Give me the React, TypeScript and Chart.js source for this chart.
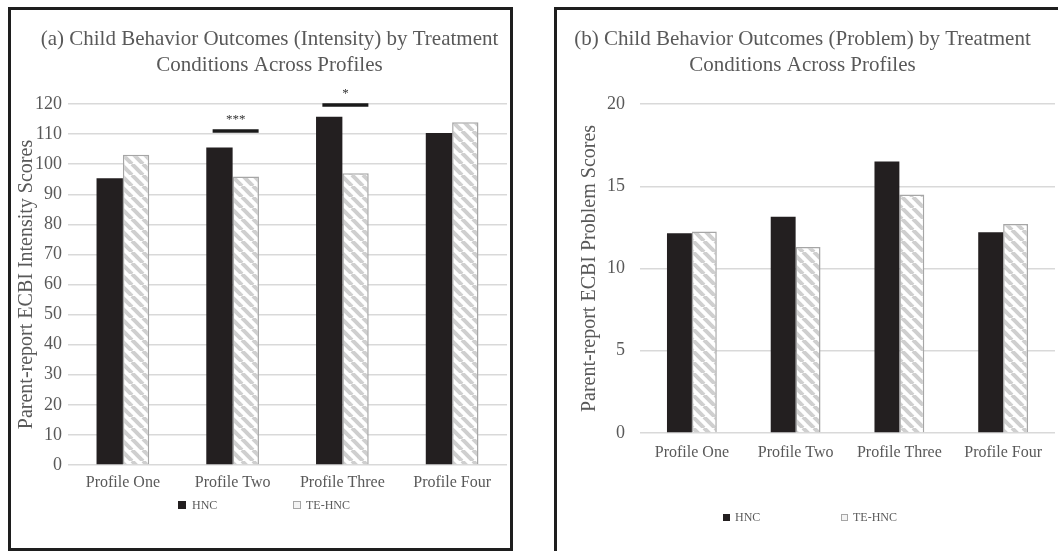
import React, { useEffect, useRef } from 'react';
import { Chart, registerables } from 'chart.js';

Chart.register(...registerables);

// ---------- data ----------
const categories = ['Profile One', 'Profile Two', 'Profile Three', 'Profile Four'];
const seriesNames = ['HNC', 'TE-HNC'];

const intensityHNC = [95.3, 105.5, 115.8, 110.4];
const intensityTE = [103.1, 95.9, 97.0, 113.9];

const problemHNC = [12.15, 13.15, 16.5, 12.2];
const problemTE = [12.25, 11.3, 14.5, 12.7];

const intensityTitle = ['(a) Child Behavior Outcomes (Intensity) by Treatment', 'Conditions Across Profiles'];
const problemTitle = ['(b) Child Behavior Outcomes (Problem) by Treatment', 'Conditions Across Profiles'];
const intensityAxisTitle = 'Parent-report ECBI Intensity Scores';
const problemAxisTitle = 'Parent-report ECBI Problem Scores';

const intensityMax = 120;
const intensityStep = 10;
const problemMax = 20;
const problemStep = 5;

const intensitySig = [
  { category: 'Profile Two', value: 111, label: '***' },
  { category: 'Profile Three', value: 119.7, label: '*' },
];

// ---------- style ----------
const FONT = "'Liberation Serif', 'Times New Roman', serif";
const TEXT = '#595959';
const DARK = '#231f20';
const GRID = '#d9d9d9';
const HATCH_BORDER = '#a6a6a6';

function makeHatch(): CanvasPattern | string {
  const s = 11;
  const c = document.createElement('canvas');
  c.width = s;
  c.height = s;
  const ctx = c.getContext('2d');
  if (!ctx) return '#ffffff';
  ctx.fillStyle = '#ffffff';
  ctx.fillRect(0, 0, s, s);
  ctx.strokeStyle = '#cfcfcf';
  ctx.lineWidth = 4;
  for (const x0 of [-s, 0, s]) {
    ctx.beginPath();
    ctx.moveTo(x0, 0);
    ctx.lineTo(x0 + s, s);
    ctx.stroke();
  }
  const p = ctx.createPattern(c, 'repeat');
  return p || '#ffffff';
}

const sigPlugin = {
  id: 'sigMarks',
  afterDatasetsDraw(chart: any, _args: any, opts: any) {
    const marks = opts && opts.marks;
    if (!marks || !marks.length) return;
    const { ctx, scales } = chart;
    const xs = scales.x;
    const ys = scales.y;
    ctx.save();
    for (const m of marks) {
      const idx = categories.indexOf(m.category);
      const cx = xs.getPixelForValue(idx);
      const y = ys.getPixelForValue(m.value);
      const x1 = cx - 20;
      const x2 = cx + 26;
      ctx.strokeStyle = '#1a1a1a';
      ctx.lineWidth = 3.5;
      ctx.beginPath();
      ctx.moveTo(x1, y);
      ctx.lineTo(x2, y);
      ctx.stroke();
      ctx.fillStyle = '#333333';
      ctx.font = `13px ${FONT}`;
      ctx.textAlign = 'center';
      ctx.textBaseline = 'middle';
      ctx.fillText(m.label, (x1 + x2) / 2, y - 11);
    }
    ctx.restore();
  },
};

type PanelCfg = {
  title: string[];
  axisTitle: string;
  hnc: number[];
  te: number[];
  max: number;
  step: number;
  marks: any[];
  yWidth: number;
  yTickPad: number;
  yTitlePad: number;
  padLeft: number;
  padRight: number;
  padBottom: number;
  xHeight: number;
  xTickPad: number;
};

function buildChart(canvas: HTMLCanvasElement, cfg: PanelCfg) {
  const hatch = makeHatch();
  return new Chart(canvas, {
    type: 'bar',
    data: {
      labels: categories,
      datasets: [
        {
          label: seriesNames[0],
          data: cfg.hnc,
          backgroundColor: DARK,
          borderWidth: 0,
          categoryPercentage: 0.48,
          barPercentage: 1.0,
        },
        {
          label: seriesNames[1],
          data: cfg.te,
          backgroundColor: hatch as any,
          borderColor: HATCH_BORDER,
          borderWidth: 1.5,
          categoryPercentage: 0.48,
          barPercentage: 1.0,
        },
      ],
    },
    options: {
      responsive: false,
      animation: false,
      layout: { padding: { left: cfg.padLeft, right: cfg.padRight, top: 0, bottom: cfg.padBottom } },
      plugins: {
        legend: { display: false },
        tooltip: { enabled: false },
        title: {
          display: true,
          text: cfg.title,
          color: TEXT,
          font: { family: FONT, size: 21, weight: 'normal', lineHeight: 26 / 21 },
          padding: { top: 16, bottom: 26 },
        },
        sigMarks: { marks: cfg.marks },
      } as any,
      scales: {
        x: {
          grid: { display: false, drawTicks: false },
          border: { display: false },
          ticks: { color: TEXT, font: { family: FONT, size: 16 }, padding: cfg.xTickPad, maxRotation: 0 },
          afterFit: (s: any) => {
            s.height = cfg.xHeight;
          },
        },
        y: {
          min: 0,
          max: cfg.max,
          ticks: { stepSize: cfg.step, color: TEXT, font: { family: FONT, size: 18 }, padding: cfg.yTickPad },
          grid: { color: GRID, lineWidth: 1.5, drawTicks: false },
          border: { display: false },
          title: {
            display: true,
            text: cfg.axisTitle,
            color: TEXT,
            font: { family: FONT, size: 20, lineHeight: 1.2 },
            padding: { top: cfg.yTitlePad, bottom: 0 },
          },
          afterFit: (s: any) => {
            s.width = cfg.yWidth;
          },
        },
      },
    },
    plugins: [sigPlugin],
  });
}

function Panel(props: { cfg: PanelCfg; left: number; top: number; width: number; height: number }) {
  const ref = useRef<HTMLCanvasElement>(null);
  useEffect(() => {
    if (!ref.current) return;
    const chart = buildChart(ref.current, props.cfg);
    return () => chart.destroy();
  }, []);
  return (
    <canvas
      ref={ref}
      width={props.width}
      height={props.height}
      style={{ position: 'absolute', left: props.left, top: props.top, width: props.width, height: props.height }}
    />
  );
}

function LegendItem(props: { x: number; y: number; size: number; label: string; hatched: boolean; textX: number }) {
  const { x, y, size, label, hatched, textX } = props;
  return (
    <>
      <div
        style={{
          position: 'absolute',
          left: x,
          top: y - size / 2,
          width: size,
          height: size,
          boxSizing: 'border-box',
          background: hatched ? '#f4f4f4' : DARK,
          border: hatched ? `1.5px solid ${HATCH_BORDER}` : 'none',
        }}
      />
      <div
        style={{
          position: 'absolute',
          left: textX,
          top: y - 7,
          height: 14,
          lineHeight: '14px',
          fontFamily: FONT,
          fontSize: 12,
          color: TEXT,
          whiteSpace: 'nowrap',
        }}
      >
        {label}
      </div>
    </>
  );
}

const leftCfg: PanelCfg = {
  title: intensityTitle,
  axisTitle: intensityAxisTitle,
  hnc: intensityHNC,
  te: intensityTE,
  max: intensityMax,
  step: intensityStep,
  marks: intensitySig,
  yWidth: 36,
  yTickPad: 6,
  yTitlePad: -17,
  padLeft: 21,
  padRight: 22,
  padBottom: 52,
  xHeight: 30,
  xTickPad: 8,
};

const rightCfg: PanelCfg = {
  title: problemTitle,
  axisTitle: problemAxisTitle,
  hnc: problemHNC,
  te: problemTE,
  max: problemMax,
  step: problemStep,
  marks: [],
  yWidth: 90,
  yTickPad: 15,
  yTitlePad: 28,
  padLeft: 0,
  padRight: 3,
  padBottom: 88,
  xHeight: 30,
  xTickPad: 10,
};

export default function App() {
  return (
    <div>
      <div
        style={{
          position: 'absolute',
          left: 8,
          top: 7,
          width: 505,
          height: 544,
          boxSizing: 'border-box',
          border: '3px solid #1e1e1e',
          background: '#ffffff',
        }}
      />
      <div
        style={{
          position: 'absolute',
          left: 554,
          top: 7,
          width: 504,
          height: 544,
          boxSizing: 'border-box',
          borderLeft: '3px solid #1e1e1e',
          borderTop: '3px solid #1e1e1e',
          background: '#ffffff',
        }}
      />
      <Panel cfg={leftCfg} left={11} top={10} width={518} height={537} />
      <Panel cfg={rightCfg} left={550} top={10} width={508} height={541} />
      <LegendItem x={178} y={505} size={8} label={seriesNames[0]} hatched={false} textX={192} />
      <LegendItem x={293} y={505} size={8} label={seriesNames[1]} hatched={true} textX={306} />
      <LegendItem x={723} y={517} size={7} label={seriesNames[0]} hatched={false} textX={735} />
      <LegendItem x={841} y={517} size={7} label={seriesNames[1]} hatched={true} textX={853} />
    </div>
  );
}
